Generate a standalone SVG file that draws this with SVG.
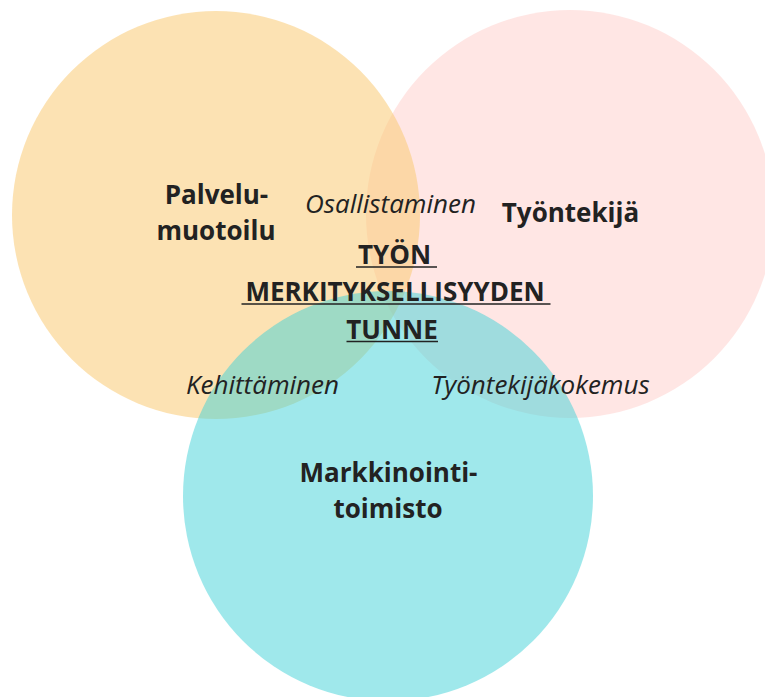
<svg xmlns="http://www.w3.org/2000/svg" width="765" height="697" viewBox="0 0 765 697">
<style>
.b{font-family:"Open Sans","Noto Sans",sans-serif;font-weight:700;font-size:26px;fill:#222;text-anchor:middle}
.i{font-family:"Open Sans","Noto Sans",sans-serif;font-style:italic;font-size:26px;fill:#222;text-anchor:middle}
.u{stroke:#222;stroke-width:1.6}
</style>
<rect width="765" height="697" fill="#fff"/>
<g id="tyontekija">
<circle cx="570" cy="214" r="204" fill="#ffc8c3" opacity="0.45"/>
<text class="b" x="570.5" y="222">Työntekijä</text>
</g>
<g id="palvelumuotoilu">
<circle cx="216" cy="215" r="204" fill="#f9cb75" opacity="0.55"/>
<text class="b" x="216.5" y="204">Palvelu-</text>
<text class="b" x="216" y="240">muotoilu</text>
</g>
<g id="markkinointitoimisto">
<circle cx="388" cy="496" r="205" fill="#40d2d7" opacity="0.5"/>
<text class="b" x="388.5" y="482">Markkinointi-</text>
<text class="b" x="388" y="518">toimisto</text>
</g>
<g id="labels">
<text class="i" x="390.5" y="213">Osallistaminen</text>
<text class="i" x="262.5" y="394">Kehittäminen</text>
<text class="i" x="540.5" y="394">Työntekijäkokemus</text>
</g>
<g id="center">
<text class="b" x="394.5" y="264">TYÖN</text>
<text class="b" x="395" y="301">MERKITYKSELLISYYDEN</text>
<text class="b" x="392" y="338.5">TUNNE</text>
<line class="u" x1="356" y1="267" x2="437" y2="267"/>
<line class="u" x1="241.5" y1="304" x2="550.5" y2="304"/>
<line class="u" x1="346.5" y1="341.5" x2="438" y2="341.5"/>
</g>
<g id="connectors"/>
</svg>
